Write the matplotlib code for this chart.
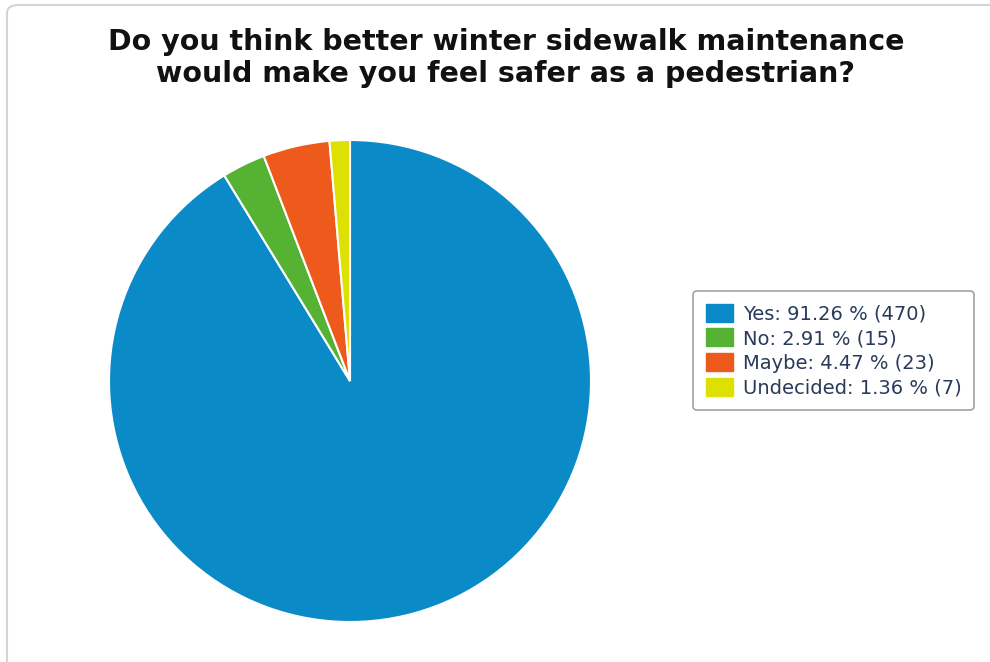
import matplotlib
matplotlib.use('Agg')
import matplotlib.pyplot as plt
from matplotlib.patches import Patch, FancyBboxPatch

# Survey answers
answers = ['Yes', 'No', 'Maybe', 'Undecided']
counts = [470, 15, 23, 7]
percents = [91.26, 2.91, 4.47, 1.36]
colors = ['#0a8bc7', '#55b233', '#ee5a1b', '#dde000']

title = 'Do you think better winter sidewalk maintenance\nwould make you feel safer as a pedestrian?'

W, H = 990, 662
fig = plt.figure(figsize=(W / 100, H / 100), dpi=100)

# light rounded frame around the chart area, kept behind everything
frame = FancyBboxPatch((7 / W, -0.1), 1.2, 1.1 - 5 / H,
                       boxstyle='round,pad=0,rounding_size=0.012',
                       transform=fig.transFigure, facecolor='white',
                       edgecolor='#d4d4d4', linewidth=1.5, zorder=-5)
fig.patches.append(frame)

fig.text(506 / W, 1 - 58 / H, title, ha='center', va='center',
         fontsize=20.5, fontweight='bold', linespacing=1.22, color='#111111')

# pie, centred at (350, 381) px with a 241 px radius
cx, cy, r = 350, 381, 241
ax = fig.add_axes([(cx - r) / W, (H - cy - r) / H, 2 * r / W, 2 * r / H])
ax.set_zorder(2)
wedges, _ = ax.pie(counts, colors=colors, startangle=90, counterclock=False,
                   wedgeprops=dict(edgecolor='white', linewidth=1.5))
ax.set_xlim(-1, 1)
ax.set_ylim(-1, 1)
ax.set_aspect('equal')
ax.axis('off')

labels = [f'{a}: {p:.2f} % ({c})' for a, p, c in zip(answers, percents, counts)]
handles = [Patch(facecolor=col, edgecolor=col) for col in colors]
leg = fig.legend(handles, labels, loc='upper left',
                 bbox_to_anchor=(693 / W, 1 - 291 / H),
                 fontsize=14, frameon=True, fancybox=True,
                 handlelength=1.4, handleheight=1.05, handletextpad=0.5,
                 labelspacing=0.26, borderpad=0.65, borderaxespad=0,
                 labelcolor='#2a3a5a')
leg.get_frame().set_edgecolor('#8a8a8a')
leg.get_frame().set_linewidth(1.2)
leg.set_zorder(3)

fig.savefig('out.png', dpi=100)
